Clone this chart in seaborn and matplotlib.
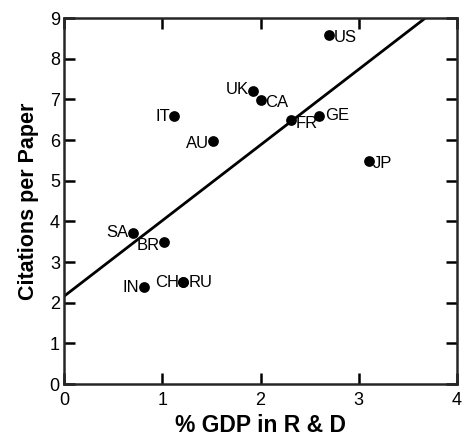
import matplotlib
matplotlib.use("Agg")
import matplotlib.pyplot as plt
import numpy as np
import pandas as pd
import seaborn as sns

sns.set_style("ticks")
plt.rcParams["font.family"] = ["Liberation Sans", "DejaVu Sans"]
plt.rcParams["text.color"] = "black"
plt.rcParams["axes.labelcolor"] = "black"
plt.rcParams["xtick.color"] = "black"
plt.rcParams["ytick.color"] = "black"

# data
countries = ["US", "UK", "CA", "IT", "AU", "FR", "GE", "JP", "SA", "BR", "IN", "CH", "RU"]
gdp_rd = [2.70, 1.92, 2.00, 1.12, 1.52, 2.31, 2.60, 3.10, 0.70, 1.02, 0.81, 1.21, 1.21]
citations = [8.58, 7.20, 6.98, 6.58, 5.98, 6.50, 6.60, 5.48, 3.72, 3.50, 2.38, 2.50, 2.50]
# label placement (offset in points, horizontal alignment)
label_dx = [3, -3, 3, -3, -3, 3, 4, 3, -3, -3, -3, -3, 4]
label_dy = [-2, 1, -2, 0, -2, -3, 0, -2, 0, -3, 0, 0, 0]
label_ha = ["left", "right", "left", "right", "right", "left", "left", "left",
            "right", "right", "right", "right", "left"]

# fitted line
fit_intercept = 2.16
fit_slope = 1.86

df = pd.DataFrame({"country": countries, "gdp": gdp_rd, "cit": citations})

fig = plt.figure(figsize=(4.64, 4.40), dpi=100)
ax = fig.add_axes([0.138, 0.127, 0.847, 0.832])

sns.scatterplot(data=df, x="gdp", y="cit", ax=ax, color="black", s=60,
                edgecolor="black", linewidth=0, zorder=3)

fx = np.array([0, 4])
ax.plot(fx, fit_intercept + fit_slope * fx, color="black", linewidth=2, zorder=2)

for i, name in enumerate(countries):
    ax.annotate(name, (gdp_rd[i], citations[i]), xytext=(label_dx[i], label_dy[i]),
                textcoords="offset points", ha=label_ha[i], va="center", fontsize=12)

ax.set_xlim(0, 4)
ax.set_ylim(0, 9)
ax.set_xticks([0, 1, 2, 3, 4])
ax.set_yticks(range(10))
ax.tick_params(direction="in", length=8, width=1.8, labelsize=13,
               top=True, right=True, pad=3)
ax.tick_params(axis="x", pad=6)
for sp in ax.spines.values():
    sp.set_visible(True)
    sp.set_linewidth(1.8)
ax.set_xlabel("% GDP in R & D", fontsize=16.5, fontweight="bold", labelpad=3)
ax.set_ylabel("Citations per Paper", fontsize=15.5, fontweight="bold", labelpad=8)

fig.savefig("out.png", dpi=100)
plt.close(fig)
